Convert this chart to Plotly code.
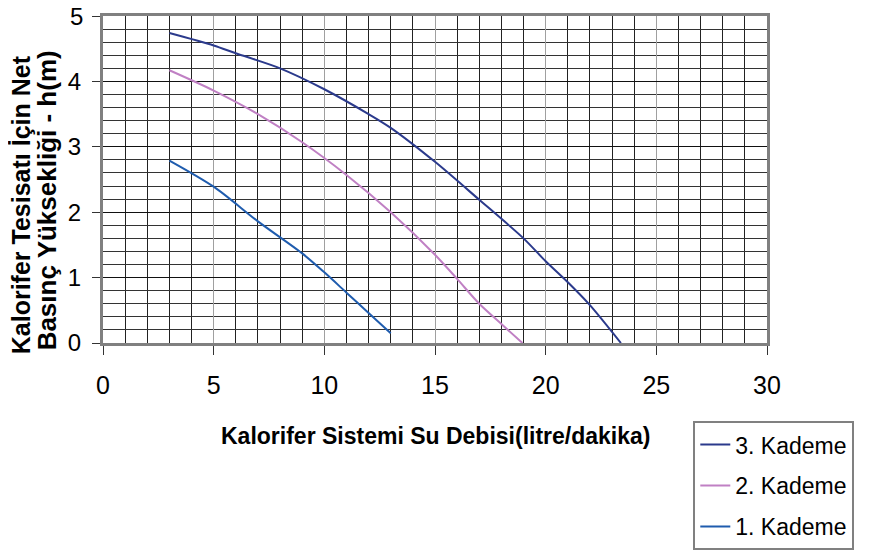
import plotly.graph_objects as go

# values
x3 = [3, 5, 6, 8, 10, 12, 13, 15, 17, 19, 20, 21, 22, 23.4]
y3 = [4.74, 4.55, 4.43, 4.2, 3.88, 3.5, 3.29, 2.77, 2.19, 1.6, 1.25, 0.93, 0.58, 0]

x2 = [3, 5, 7, 9, 11, 13, 15, 16, 17, 18, 18.95]
y2 = [4.17, 3.86, 3.5, 3.07, 2.57, 2.0, 1.35, 0.98, 0.6, 0.29, 0]

x1 = [3, 5, 7, 9, 10, 11, 12, 13]
y1 = [2.79, 2.39, 1.86, 1.37, 1.08, 0.77, 0.46, 0.15]

y_ticks = [0, 1, 2, 3, 4, 5]

SERIES = [
    ("3. Kademe", x3, y3, "#2B3A8C"),
    ("2. Kademe", x2, y2, "#C080C4"),
    ("1. Kademe", x1, y1, "#1F5CAE"),
]

FONT = "Liberation Sans, Arial"

traces = []
for name, xs, ys, color in SERIES:
    traces.append(go.Scatter(
        x=xs, y=ys, mode='lines', name=name, legendgroup=name,
        line=dict(color=color, width=2, shape='spline', smoothing=0.8),
    ))

# top label drawn separately (it sits at the page edge)
y_text = [str(v) for v in y_ticks[:-1]] + [""]

# the page body adds an 8px offset, so margins are shifted up/left by 8px
layout = go.Layout(
    font=dict(family=FONT, color='black', size=22),
    plot_bgcolor='white',
    paper_bgcolor='white',
    width=869,
    height=550,
    margin=dict(l=95, r=110, t=8, b=215, autoexpand=False),
    xaxis=dict(
        range=[0, 30],
        tick0=0, dtick=5,
        ticks='outside', ticklen=9, tickcolor='#333', tickwidth=1,
        ticklabelstandoff=9, ticklabeloverflow='allow',
        showgrid=True, gridcolor='#a0a0a0', gridwidth=1,
        minor=dict(dtick=1, showgrid=True, gridcolor='#222', gridwidth=1),
        showline=True, linecolor='#808080', linewidth=3, mirror=True,
        zeroline=False,
        tickfont=dict(size=25),
    ),
    yaxis=dict(
        range=[0, 5],
        tickvals=y_ticks, ticktext=y_text,
        ticks='outside', ticklen=8, tickcolor='#333', tickwidth=1,
        ticklabelstandoff=6, ticklabeloverflow='allow',
        showgrid=True, gridcolor='#111', gridwidth=1,
        minor=dict(dtick=0.2, showgrid=True, gridcolor='#333', gridwidth=1),
        showline=True, linecolor='#808080', linewidth=3, mirror=True,
        zeroline=False,
        tickfont=dict(size=24),
    ),
    legend=dict(
        x=0.889, y=-0.239, xanchor='left', yanchor='top',
        bordercolor='#808080', borderwidth=2,
        font=dict(size=23, family=FONT),
        bgcolor='white',
        tracegroupgap=8,
    ),
    annotations=[
        dict(text=str(y_ticks[-1]),
             xref='paper', yref='y', x=-0.027, y=y_ticks[-1],
             xanchor='right', yanchor='middle', showarrow=False,
             font=dict(size=24, family=FONT)),
        dict(text="<b>Kalorifer Sistemi Su Debisi(litre/dakika)</b>",
             xref='paper', yref='paper', x=0.5, y=-0.284,
             xanchor='center', yanchor='middle', showarrow=False,
             font=dict(size=23, family=FONT)),
        dict(text="<b>Kalorifer Tesisatı İçin Net</b>",
             xref='paper', yref='paper', x=-0.124, y=-0.04,
             xanchor='center', yanchor='bottom', textangle=-90, showarrow=False,
             font=dict(size=25, family=FONT)),
        dict(text="<b>Basınç Yüksekliği - h(m)</b>",
             xref='paper', yref='paper', x=-0.085, y=-0.03,
             xanchor='center', yanchor='bottom', textangle=-90, showarrow=False,
             font=dict(size=26, family=FONT)),
    ],
)

fig = go.Figure(data=traces, layout=layout)
fig.write_html("out.html")
